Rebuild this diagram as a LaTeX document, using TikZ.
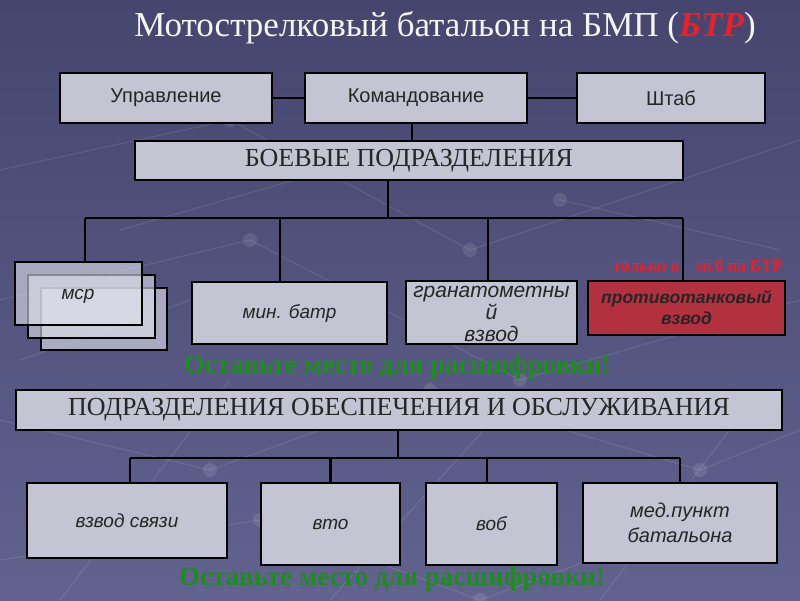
\documentclass[tikz,border=0pt]{standalone}
\usepackage{fontspec}
\setmainfont{Liberation Serif}
\setsansfont{Liberation Sans}
\usetikzlibrary{calc}
\definecolor{bgtop}{HTML}{45456E}
\definecolor{bgbot}{HTML}{62628F}
\definecolor{boxfill}{HTML}{C4C4D2}
\definecolor{boxlight}{HTML}{E2E2EC}
\definecolor{redbox}{HTML}{B3303F}
\definecolor{greentxt}{HTML}{1E8C1E}
\definecolor{redtxt}{HTML}{E8202A}
\tikzset{
  unit/.style={draw=black, line width=2.6pt, fill=boxfill, inner sep=0pt, text=black!85},
  topbox/.style={unit, font=\sffamily\fontsize{20}{22}\selectfont},
  headbox/.style={unit, font=\fontsize{26}{28}\selectfont},
  subbox/.style={unit, font=\sffamily\itshape\fontsize{19}{22}\selectfont, align=center},
  msrbox/.style={draw=black, line width=2.6pt, fill=boxlight, fill opacity=0.6, inner sep=0pt},
  conn/.style={draw=black, line width=2.2pt},
  note/.style={text=greentxt, font=\bfseries\fontsize{27}{29}\selectfont},
  net/.style={draw=white, opacity=0.10, line width=1pt},
  dot/.style={fill=white, opacity=0.10}
}
\begin{document}
\begin{tikzpicture}[x=1pt, y=-1pt]
% background
\shade[top color=bgtop, bottom color=bgbot] (0,0) rectangle (800,600);
\useasboundingbox (0,0) rectangle (800,600);
% faint network pattern
\foreach \a/\b/\c/\d in {0/170/230/120, 230/120/470/250, 470/250/800/140, 0/300/250/240, 250/240/520/380, 520/380/800/300,
  0/420/210/470, 210/470/430/390, 430/390/700/470, 700/470/800/430, 0/560/260/520, 260/520/480/600, 480/600/700/520,
  60/600/230/380, 330/600/520/390, 600/600/760/390, 120/230/330/170, 560/200/780/250, 20/360/190/300}
  {\draw[net] (\a,\b) -- (\c,\d);}
\foreach \p/\q in {230/120, 470/250, 250/240, 520/380, 210/470, 430/390, 700/470, 260/520, 480/600, 330/170, 560/200}
  {\fill[dot] (\p,\q) circle (7);}
% title
\node (title) at (445,28) {\fontsize{35}{37}\selectfont\color{white!92!gray}Мотострелковый батальон на БМП (\textcolor{redtxt}{\bfseries\itshape БТР})};
% top row
\node[topbox, minimum width=212, minimum height=50] (upr) at (166,98) {Управление};
\node[topbox, minimum width=222, minimum height=50] (kom) at (416,98) {Командование};
\node[topbox, minimum width=188, minimum height=50] (shtab) at (671,98) {Штаб};
\draw[conn] (upr.east) -- (kom.west);
\draw[conn] (kom.east) -- (shtab.west);
% combat units header
\node[headbox, minimum width=548, minimum height=39] (boev) at (409,160.5) {БОЕВЫЕ ПОДРАЗДЕЛЕНИЯ};
\draw[conn] (kom.south -| 412,0) -- (boev.north -| 412,0);
\coordinate (bus1) at (388,218);
\coordinate (b1l) at (85,218);
\coordinate (b1r) at (683,218);
\draw[conn] (boev.south -| bus1) -- (bus1);
\draw[conn] (b1l) -- (b1r);
% msr stack
\node[msrbox, minimum width=126, minimum height=62] (msr3) at (104,319) {};
\node[msrbox, minimum width=127, minimum height=63] (msr2) at (91.5,306.5) {};
\node[msrbox, minimum width=127, minimum height=63] (msr1) at (78.5,293.5) {};
\node[font=\sffamily\itshape\fontsize{19}{22}\selectfont, text=black!85] (msrt) at (78,296) {мср};
% other combat units
\node[subbox, minimum width=195, minimum height=62] (min) at (289.5,313) {мин. батр};
\node[subbox, minimum width=171, minimum height=63] (gran) at (491.5,312.5) {};
\node[font=\sffamily\itshape\fontsize{21}{22}\selectfont, align=center, text=black!85] (grant) at (491.5,314) {гранатометны\\й\\взвод};
\node[unit, fill=redbox, minimum width=197, minimum height=54, align=center,
  font=\sffamily\bfseries\itshape\fontsize{17.5}{21}\selectfont] (ptv) at (686.5,308) {противотанковый\\взвод};
\node[text=redtxt, font=\bfseries\fontsize{17}{18}\selectfont] (ptvnote) at (698,265) {только в\hspace{16pt}мсб на БТР};
\draw[conn] (b1l) -- (b1l |- msr1.north);
\draw[conn] (b1l -| min.north) ++(-9.5,0) coordinate (b1m) -- (b1m |- min.north);
\draw[conn] (b1l -| gran.north) ++(-3.5,0) coordinate (b1g) -- (b1g |- gran.north);
\draw[conn] (b1r) -- (b1r |- ptv.north);
\node[note] (note1) at (397,367) {Оставьте место для расшифровки!};
% support header
\node[headbox, minimum width=766, minimum height=40] (obesp) at (399,410) {ПОДРАЗДЕЛЕНИЯ ОБЕСПЕЧЕНИЯ И ОБСЛУЖИВАНИЯ};
\coordinate (bus2) at (398,458);
\coordinate (b2l) at (130,458);
\coordinate (b2r) at (680,458);
\draw[conn] (obesp.south -| bus2) -- (bus2);
\draw[conn] (b2l) -- (b2r);
\node[subbox, minimum width=200, minimum height=75] (svyaz) at (127,520.5) {взвод связи};
\node[subbox, minimum width=139, minimum height=82] (vto) at (330.5,524) {вто};
\node[subbox, minimum width=131, minimum height=82] (vob) at (491.5,524) {воб};
\node[subbox, minimum width=194, minimum height=80, font=\sffamily\itshape\fontsize{20}{25}\selectfont] (med) at (680,523) {мед.пункт\\батальона};
\draw[conn] (b2l) -- (b2l |- svyaz.north);
\draw[conn] (b2l -| vto.north) coordinate (b2v) -- (b2v |- vto.north);
\draw[conn] (b2l -| 487,0) coordinate (b2o) -- (b2o |- vob.north);
\draw[conn] (b2r) -- (b2r |- med.north);
\node[note] (note2) at (392,579) {Оставьте место для расшифровки!};
\end{tikzpicture}
\end{document}
